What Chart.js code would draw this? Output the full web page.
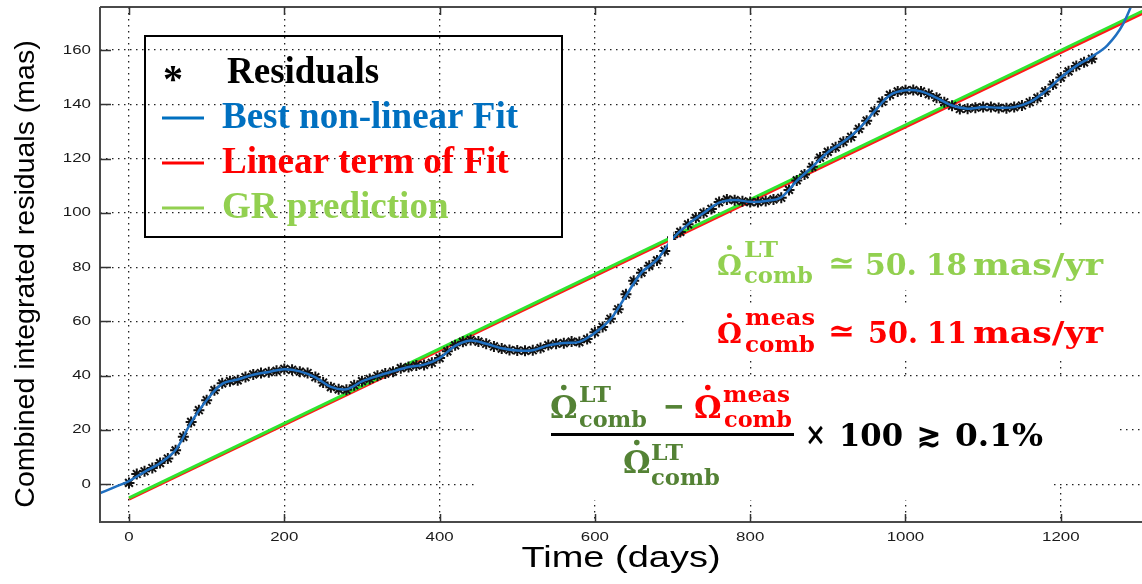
<!DOCTYPE html>
<html><head><meta charset="utf-8">
<script src="https://cdn.jsdelivr.net/npm/chart.js@4.4.1/dist/chart.umd.min.js"></script>
<style>html,body{margin:0;padding:0;background:#fff;}#wrap{width:1142px;height:584px;position:relative;}</style>
</head><body><div id="wrap"><canvas id="c" width="1142" height="584"></canvas></div>
<script>
// ---- data ----
const residualDays = [0,10,20,30,40,50,60,70,80,90,100,110,120,130,140,150,160,170,180,190,
 200,210,220,230,240,250,260,270,280,290,300,310,320,330,340,350,360,370,380,390,
 400,410,420,430,440,450,460,470,480,490,500,510,520,530,540,550,560,570,580,590,
 600,610,620,630,640,650,660,670,680,690,700,710,720,730,740,750,760,770,780,790,
 800,810,820,830,840,850,860,870,880,890,900,910,920,930,940,950,960,970,980,990,
 1000,1010,1020,1030,1040,1050,1060,1070,1080,1090,1100,1110,1120,1130,1140,1150,1160,1170,1180,1190,
 1200,1210,1220,1230,1240];
const residualValues = [0.5,3.8,4.8,6,7.8,9.5,12.5,17.5,23,27.3,31,34.7,37.2,38,38.3,39.5,40.5,41,41.3,41.8,
 42.5,42.2,41.5,41,39.5,37.5,35.8,35,34.8,36.5,38,38.8,40,40.8,41.5,42.8,43.2,43.8,44,44.8,
 46.5,49,51.2,52.5,53.2,52.6,51.8,50.8,50,49.5,49.3,49.2,49.4,50.2,51.3,51.8,52,52.6,52.4,53.5,
 56,58,61,64.5,70,75,78,80.5,82.5,86,91,93,95.8,98.2,100,101.5,104,105,104.7,104.3,
 104,104,104.4,105,105.6,108.5,112,114.2,117,120.4,122.5,124.2,126.2,128,131,134,137.5,141,143.5,144.8,
 145.2,145.3,144.8,143.8,142.5,140.8,139.5,138.3,138.4,138.8,139,139,138.7,138.6,139,139.6,140.8,142.4,144.8,147.3,
 149.9,152.2,154.2,155.5,156.8];
const fitDays = [-40,-20,0,20,40,60,80,100,120,140,160,180,200,220,240,260,280,300,320,340,360,380,
 400,420,440,460,480,500,520,540,560,580,600,620,640,660,680,700,720,740,760,780,
 800,820,840,860,880,900,920,940,960,980,1000,1020,1040,1060,1080,1100,1120,1140,1160,1180,
 1200,1220,1240,1260,1280,1300];
const fitValues = [-3.6,-1.2,1.2,4.6,7.8,12.6,22.8,31,37,38.6,40.4,41.4,42.4,41.6,39.4,35.9,35,37.9,39.9,41.6,43.2,44.1,
 46.5,51,53,51.8,50.1,49.3,49.4,51.2,52.1,52.5,55.8,60.8,69.5,78,82.8,90.5,95.8,100,103.8,104.8,
 104.1,104.4,105.8,111.8,117,122.4,126.2,131,137.4,143.4,145.2,144.8,142.4,139.6,138.4,139,138.8,139,140.8,144.8,
 149.9,154.2,157.6,161.8,169.5,183];
const linearDays = [0,1310];
const linearValues = [-5.5,174.2];   // 50.11 mas/yr
const grDays = [0,1310];
const grValues = [-5.0,175.0];       // 50.18 mas/yr
const xTickValues = [0,200,400,600,800,1000,1200];
const xTickLabels = ['0','200','400','600','800','1000','1200'];
const yTickValues = [0,20,40,60,80,100,120,140,160];
const yTickLabels = ['0','20','40','60','80','100','120','140','160'];
const legendLabels = ['Residuals','Best non-linear Fit','Linear term of Fit','GR prediction'];
const xTitle = 'Time (days)';
const yTitle = 'Combined integrated residuals (mas)';

const pts = (xs, ys) => xs.map((x, i) => ({x, y: ys[i]}));

const C_BLUE = '#1f6fc0', C_RED = '#ff1a1a', C_GREEN = '#2ee62e';
const T_BLUE = '#0070C0', T_RED = '#FF0000', T_LGREEN = '#92D050', T_DGREEN = '#548235';

function omega(ctx, x, base, size, color) {
  ctx.font = 'bold ' + size + 'px "DejaVu Serif"';
  ctx.fillStyle = color;
  ctx.textAlign = 'left'; ctx.textBaseline = 'alphabetic';
  ctx.fillText('Ω', x, base);
  const w = ctx.measureText('Ω').width;
  ctx.beginPath();
  ctx.arc(x + w / 2, base - size * 0.98, size * 0.09, 0, Math.PI * 2);
  ctx.fill();
  return w;
}
function txt(ctx, s, x, y, font, color, align) {
  ctx.font = font; ctx.fillStyle = color; ctx.textAlign = align || 'left'; ctx.textBaseline = 'alphabetic';
  ctx.fillText(s, x, y);
}
// text squeezed/stretched to span x0..x1
function fit(ctx, s, x0, x1, y, font, color) {
  ctx.font = font; ctx.fillStyle = color; ctx.textAlign = 'left'; ctx.textBaseline = 'alphabetic';
  const w = ctx.measureText(s).width;
  ctx.save(); ctx.translate(x0, y); ctx.scale((x1 - x0) / w, 1); ctx.fillText(s, 0, 0); ctx.restore();
}

const overlay = {
  id: 'overlay',
  afterDatasetsDraw(chart) {
    const ctx = chart.ctx, a = chart.chartArea;
    const xs = chart.scales.x, ys = chart.scales.y;
    ctx.save();
    // white backgrounds of pasted formulas
    ctx.fillStyle = '#fff';
    ctx.fillRect(475, 379, 645, 104);
    ctx.fillRect(475, 483, 575, 17);
    ctx.fillRect(684, 303, 458, 57);
    ctx.fillRect(673, 240, 469, 50);
    ctx.fillRect(700, 227, 442, 13);
    ctx.fillRect(668, 222, 5, 28);

    // axes box
    ctx.strokeStyle = '#4a4a4a'; ctx.lineWidth = 2;
    ctx.beginPath();
    ctx.moveTo(a.left, a.top); ctx.lineTo(1142, a.top);
    ctx.moveTo(a.left, a.top); ctx.lineTo(a.left, a.bottom);
    ctx.moveTo(a.left - 1, a.bottom); ctx.lineTo(1142, a.bottom);
    ctx.stroke();
    // inward ticks
    ctx.lineWidth = 1.5; ctx.strokeStyle = '#333';
    ctx.beginPath();
    xTickValues.forEach(v => {
      const px = Math.round(xs.getPixelForValue(v)) + 0.5;
      ctx.moveTo(px, a.bottom); ctx.lineTo(px, a.bottom - 8);
      ctx.moveTo(px, a.top); ctx.lineTo(px, a.top + 8);
    });
    yTickValues.forEach(v => {
      const py = Math.round(ys.getPixelForValue(v)) + 0.5;
      ctx.moveTo(a.left, py); ctx.lineTo(a.left + 11, py);
    });
    ctx.stroke();
    // tick labels (stretched like the original)
    ctx.fillStyle = '#1a1a1a'; ctx.font = '12.5px "Liberation Sans"'; ctx.textBaseline = 'middle';
    xTickValues.forEach((v, i) => {
      ctx.save(); ctx.translate(xs.getPixelForValue(v), 538); ctx.scale(1.35, 1);
      ctx.textAlign = 'center'; ctx.fillText(xTickLabels[i], 0, 0); ctx.restore();
    });
    yTickValues.forEach((v, i) => {
      ctx.save(); ctx.translate(91, ys.getPixelForValue(v)); ctx.scale(1.35, 1);
      ctx.textAlign = 'right'; ctx.fillText(yTickLabels[i], 0, 0); ctx.restore();
    });
    // axis titles
    ctx.fillStyle = '#000'; ctx.textBaseline = 'alphabetic';
    ctx.save(); ctx.translate(621, 567); ctx.scale(1.31, 1);
    ctx.font = '29px "Liberation Sans"'; ctx.textAlign = 'center'; ctx.fillText(xTitle, 0, 0); ctx.restore();
    ctx.save(); ctx.translate(34, 274); ctx.rotate(-Math.PI / 2);
    ctx.font = '28.5px "Liberation Sans"'; ctx.textAlign = 'center'; ctx.fillText(yTitle, 0, 0); ctx.restore();

    // legend
    ctx.strokeStyle = '#000'; ctx.lineWidth = 2;
    ctx.strokeRect(145, 36, 417, 201);
    const lf = 'bold 37px "Liberation Serif"';
    txt(ctx, '*', 163, 92, 'bold 40px "Liberation Serif"', '#000');
    txt(ctx, legendLabels[0], 227, 83, lf, '#000');
    [[T_BLUE, 118, 128], [T_RED, 163, 173], [T_LGREEN, 208, 218]].forEach((r, i) => {
      ctx.strokeStyle = r[0]; ctx.lineWidth = 3;
      ctx.beginPath(); ctx.moveTo(162, r[1]); ctx.lineTo(204, r[1]); ctx.stroke();
      txt(ctx, legendLabels[i + 1], 222, r[2], lf, r[0]);
    });

    // formulas
    const num = 'bold 30px "DejaVu Serif"', big = 'bold 32px "DejaVu Serif"', small = 'bold 22px "DejaVu Serif"';
    // GR value
    omega(ctx, 717, 275, 28, T_LGREEN);
    fit(ctx, 'LT', 744, 778, 257, small, T_LGREEN);
    fit(ctx, 'comb', 744, 813, 283, small, T_LGREEN);
    fit(ctx, '≃', 828, 855, 273, num, T_LGREEN);
    fit(ctx, '50.', 865, 917, 275, num, T_LGREEN);
    fit(ctx, '18', 926, 967, 275, num, T_LGREEN);
    fit(ctx, 'mas/yr', 973, 1103, 275, num, T_LGREEN);
    // measured value
    omega(ctx, 717, 343, 28, T_RED);
    fit(ctx, 'meas', 745, 815, 325, small, T_RED);
    fit(ctx, 'comb', 745, 815, 352, small, T_RED);
    fit(ctx, '≃', 828, 855, 341, num, T_RED);
    fit(ctx, '50.', 868, 918, 343, num, T_RED);
    fit(ctx, '11', 927, 967, 343, num, T_RED);
    fit(ctx, 'mas/yr', 973, 1103, 343, num, T_RED);
    // fraction
    omega(ctx, 550, 418, 31, T_DGREEN);
    fit(ctx, 'LT', 579, 611, 402, small, T_DGREEN);
    fit(ctx, 'comb', 579, 647, 427, small, T_DGREEN);
    fit(ctx, '−', 663, 685, 417, big, T_DGREEN);
    omega(ctx, 694, 418, 31, T_RED);
    fit(ctx, 'meas', 723, 790, 402, small, T_RED);
    fit(ctx, 'comb', 724, 792, 427, small, T_RED);
    ctx.fillStyle = '#000'; ctx.fillRect(551, 433, 243, 3);
    omega(ctx, 623, 473, 31, T_DGREEN);
    fit(ctx, 'LT', 651, 683, 460, small, T_DGREEN);
    fit(ctx, 'comb', 651, 720, 485, small, T_DGREEN);
    fit(ctx, '×', 805, 826, 445, big, '#000');
    fit(ctx, '100', 839, 903, 446, big, '#000');
    fit(ctx, '≳', 917, 941, 446, big, '#000');
    fit(ctx, '0.1%', 955, 1043, 446, big, '#000');
    ctx.restore();
  }
};

new Chart(document.getElementById('c'), {
  type: 'scatter',
  data: {
    datasets: [
      { label: legendLabels[1], data: pts(fitDays, fitValues), showLine: true, borderColor: C_BLUE,
        borderWidth: 2.5, pointRadius: 0, tension: 0.35 },
      { label: legendLabels[0], data: pts(residualDays, residualValues), showLine: false,
        pointStyle: 'star', pointRadius: 5.5, borderColor: '#111', backgroundColor: '#111', borderWidth: 2 },
      { label: legendLabels[3], data: pts(grDays, grValues), showLine: true, borderColor: C_GREEN,
        borderWidth: 3, pointRadius: 0 },
      { label: legendLabels[2], data: pts(linearDays, linearValues), showLine: true, borderColor: C_RED,
        borderWidth: 3, pointRadius: 0 }
    ]
  },
  options: {
    responsive: false, animation: false, devicePixelRatio: 1,
    layout: { autoPadding: false, padding: { top: 7, right: 0, left: 0, bottom: 0 } },
    plugins: { legend: { display: false }, tooltip: { enabled: false }, title: { display: false } },
    scales: {
      x: { type: 'linear', min: -37.35, max: 1304.6,
        afterFit: s => { s.height = 62; },
        ticks: { display: false, stepSize: 200, includeBounds: false },
        grid: { color: '#222', lineWidth: 1.3, drawTicks: false },
        border: { display: false, dash: [1.5, 4.5] } },
      y: { type: 'linear', min: -13.9, max: 175.9,
        afterFit: s => { s.width = 100; },
        ticks: { display: false, stepSize: 20, includeBounds: false },
        grid: { color: '#222', lineWidth: 1.3, drawTicks: false },
        border: { display: false, dash: [1.5, 4.5] } }
    }
  },
  plugins: [overlay]
});
</script></body></html>
